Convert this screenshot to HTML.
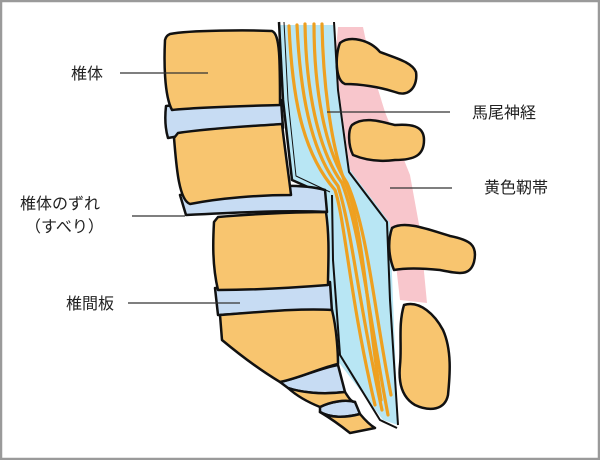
<!DOCTYPE html>
<html><head><meta charset="utf-8"><style>
html,body{margin:0;padding:0;background:#fff}
svg{display:block}
text{font-family:"Liberation Sans","Noto Sans CJK JP",sans-serif;font-size:16px;fill:#222}
</style></head><body>
<svg width="600" height="460" viewBox="0 0 600 460" stroke-linejoin="round">
<rect x="1" y="1" width="598" height="458" fill="#fff" stroke="#9a9a9a" stroke-width="2.5"/>
<!-- pink ligament -->
<path d="M338,27 L363,27 L372,70 L385,112 L410,175 L420,230 L427,303 L400,300 L392,230 L350,170 L335,60 Z" fill="#f8c6cc"/>
<!-- canal -->
<path d="M280,25 L333,25 L338,90 L350,170 L390,223 L393,300 L398,425 L383,420 L337,360 L328,260 L327,197 L292,180 L283,100 Z" fill="#b8e6f4"/>
<path d="M279,22 L283,100 L292,180 L326,195" fill="none" stroke="#111" stroke-width="2.5"/>
<path d="M284,22 L288,100 L296,176 L330,192" fill="none" stroke="#111" stroke-width="1"/>
<path d="M334,22 L338,90 L349,172 L387,222 L390,300 L398,425" fill="none" stroke="#111" stroke-width="2"/>
<path d="M332,195 L333,260 L340,355 L380,420 L397,428" fill="none" stroke="#111" stroke-width="2"/>
<!-- nerves -->
<g fill="none" stroke="#eea020" stroke-width="3.2" stroke-linecap="round">
<path d="M289,26 C292,90 300,150 335,190 C345,220 350,300 375,405"/>
<path d="M297,25 C300,90 310,150 338,186 C352,230 358,300 382,410"/>
<path d="M305,24 C306,90 318,150 342,183 C360,230 368,310 388,415"/>
<path d="M314,24 C314,90 325,150 347,183 C368,230 374,310 391,395"/>
<path d="M322,24 C323,80 330,140 344,180 C362,220 366,300 381,400"/>
</g>
<!-- processes -->
<g fill="#f8c56f" stroke="#111" stroke-width="2.5">
<path d="M340,43 C350,35 370,40 380,52 C395,58 412,62 416,72 C418,85 410,98 395,92 C380,87 360,84 345,84 C335,80 335,55 340,43 Z"/>
<path d="M352,125 C365,115 385,123 395,125 C410,124 424,125 424,140 C424,155 415,160 395,160 C380,162 365,160 353,155 C348,145 348,130 352,125 Z"/>
<path d="M392,228 C405,220 430,230 450,236 C470,240 478,245 474,262 C470,276 460,274 440,270 C420,268 405,268 394,270 C388,255 388,240 392,228 Z"/>
<path d="M404,305 C420,300 435,315 443,330 C452,350 450,375 448,395 C445,410 430,412 415,405 C403,398 398,385 400,365 C402,345 398,325 404,305 Z"/>
</g>
<!-- discs -->
<g fill="#c7dcf3" stroke="#111" stroke-width="2.5">
<path d="M166,106 C200,102 250,100 281,100 L283,128 C250,128 200,132 168,138 C165,128 165,115 166,106 Z"/>
<path d="M180,195 C220,190 290,180 325,190 L327,212 C290,210 240,212 186,215 Z"/>
<path d="M215,288 C250,288 300,283 330,282 L332,312 C290,310 250,313 218,315 Z"/>
<path d="M280,382 C300,378 320,368 338,365 L345,392 C320,395 300,392 288,388 Z"/>
<path d="M320,407 C330,402 345,399 355,402 L360,414 C345,418 330,418 320,412 Z"/>
</g>
<!-- vertebrae -->
<g fill="#f8c56f" stroke="#111" stroke-width="2.5">
<path d="M170,34 C190,30 250,30 272,31 C280,34 280,60 280,105 C250,106 200,107 172,110 C164,95 164,60 165,40 C166,36 168,35 170,34 Z"/>
<path d="M178,133 C210,128 255,126 282,124 C285,150 290,185 291,195 C260,195 220,198 190,204 C178,200 176,160 174,138 Z"/>
<path d="M218,217 C250,214 300,212 326,212 C330,240 328,265 328,285 C290,288 250,290 218,290 C212,265 213,240 214,222 Z"/>
<path d="M220,315 C260,312 300,308 332,310 C337,330 338,355 338,364 C320,368 300,378 280,382 C260,370 240,355 222,340 Z"/>
<path d="M288,388 C300,392 320,395 345,392 C350,400 352,402 355,402 C345,399 330,402 320,407 C310,403 298,397 288,388 Z"/>
<path d="M320,412 C330,418 345,418 360,414 C365,420 370,425 375,428 C365,430 355,432 350,433 C340,425 330,418 320,412 Z"/>
</g>
<!-- leader lines -->
<g stroke="#333" stroke-width="1.2">
<line x1="120" y1="73" x2="208" y2="73"/>
<line x1="327" y1="112" x2="450" y2="112"/>
<line x1="390" y1="188" x2="452" y2="188"/>
<line x1="132" y1="216" x2="185" y2="216"/>
<line x1="128" y1="303" x2="240" y2="303"/>
</g>
<text x="71" y="79">椎体</text>
<text x="472" y="118">馬尾神経</text>
<text x="484" y="193">黄色靭帯</text>
<text x="20" y="209">椎体のずれ</text>
<text x="25" y="232">（すべり）</text>
<text x="66" y="309">椎間板</text>
</svg>
</body></html>
